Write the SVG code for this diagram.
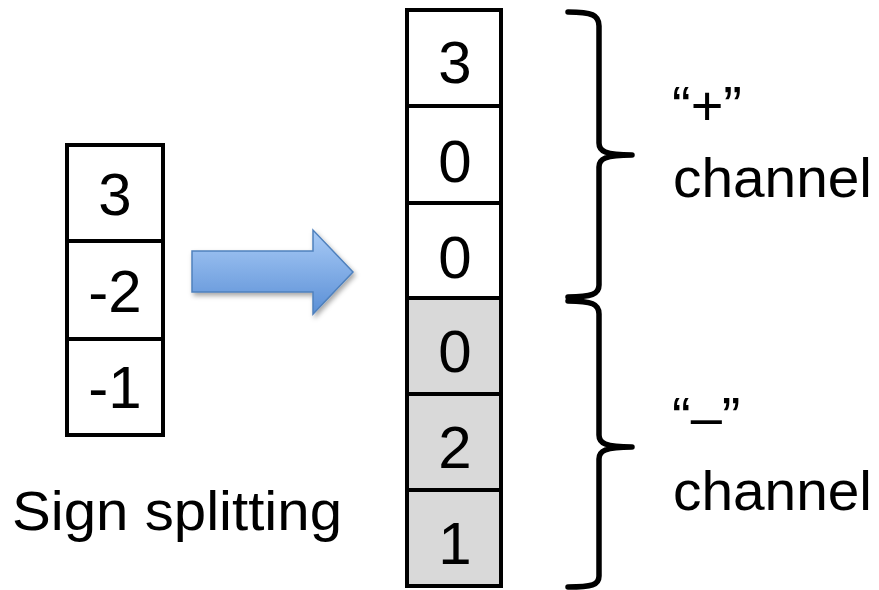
<svg xmlns="http://www.w3.org/2000/svg" width="879" height="590" viewBox="0 0 879 590">
  <style>
    .cell { stroke: #000; stroke-width: 4; }
    .pos { fill: #fff; }
    .neg { fill: #d9d9d9; }
    .num { font-family: "Liberation Sans", Arial, sans-serif; font-size: 60px; fill: #000; text-anchor: middle; }
    .lbl { font-family: "Liberation Sans", Arial, sans-serif; font-size: 56px; fill: #000; }
    .brace { fill: none; stroke: #000; stroke-width: 5.5; stroke-linecap: round; stroke-linejoin: round; }
  </style>
  <defs>
    <linearGradient id="arrowFill" x1="0" y1="0" x2="0" y2="1">
      <stop offset="0" stop-color="#a9cbf6"/>
      <stop offset="1" stop-color="#5a8fd6"/>
    </linearGradient>
    <filter id="shadow" x="-10%" y="-20%" width="130%" height="150%">
      <feDropShadow dx="2" dy="3" stdDeviation="2.5" flood-color="#000" flood-opacity="0.35"/>
    </filter>
  </defs>
  <rect width="879" height="590" fill="#fff"/>

  <!-- input vector -->
  <g id="input">
    <rect class="cell pos" x="67" y="145" width="96" height="96"/>
    <rect class="cell pos" x="67" y="241" width="96" height="98"/>
    <rect class="cell pos" x="67" y="339" width="96" height="96"/>
    <text class="num" x="115" y="215">3</text>
    <text class="num" x="115" y="312">-2</text>
    <text class="num" x="115" y="408">-1</text>
  </g>

  <g id="caption">
    <text class="lbl" x="12" y="530" textLength="330" lengthAdjust="spacingAndGlyphs">Sign splitting</text>
  </g>

  <!-- transform arrow -->
  <g id="arrow">
    <polygon points="192,251 313,251 313,230 353,272 313,314 313,292 192,292" fill="url(#arrowFill)" stroke="#4f81bd" stroke-width="1.5" filter="url(#shadow)"/>
  </g>

  <!-- output vector: positive part then negative part -->
  <g id="output">
    <rect class="cell pos" x="407" y="10" width="94" height="96"/>
    <rect class="cell pos" x="407" y="106" width="94" height="97"/>
    <rect class="cell pos" x="407" y="203" width="94" height="95"/>
    <rect class="cell neg" x="407" y="298" width="94" height="96"/>
    <rect class="cell neg" x="407" y="394" width="94" height="96"/>
    <rect class="cell neg" x="407" y="490" width="94" height="96"/>
    <text class="num" x="455" y="83">3</text>
    <text class="num" x="455" y="182">0</text>
    <text class="num" x="455" y="278">0</text>
    <text class="num" x="455" y="372">0</text>
    <text class="num" x="455" y="468">2</text>
    <text class="num" x="455" y="564">1</text>
  </g>

  <!-- braces grouping the channels -->
  <g id="connectors">
    <path class="brace" d="M568,12 C592,12 599,15 599,26 L599,143 C599,151 605,155 632,155 C605,155 599,159 599,167 L599,285 C599,294 592,297 568,297"/>
    <path class="brace" d="M568,301 C592,301 599,304 599,314 L599,435 C599,443 605,447 632,447 C605,447 599,451 599,459 L599,576 C599,585 592,587 568,587"/>
  </g>

  <g id="plus-label">
    <text class="lbl" x="672" y="125" font-size="60">“+”</text>
    <text class="lbl" x="673" y="197" textLength="199" lengthAdjust="spacingAndGlyphs">channel</text>
  </g>
  <g id="minus-label">
    <text class="lbl" x="672" y="436" font-size="60">“–”</text>
    <text class="lbl" x="673" y="510" textLength="199" lengthAdjust="spacingAndGlyphs">channel</text>
  </g>
</svg>
